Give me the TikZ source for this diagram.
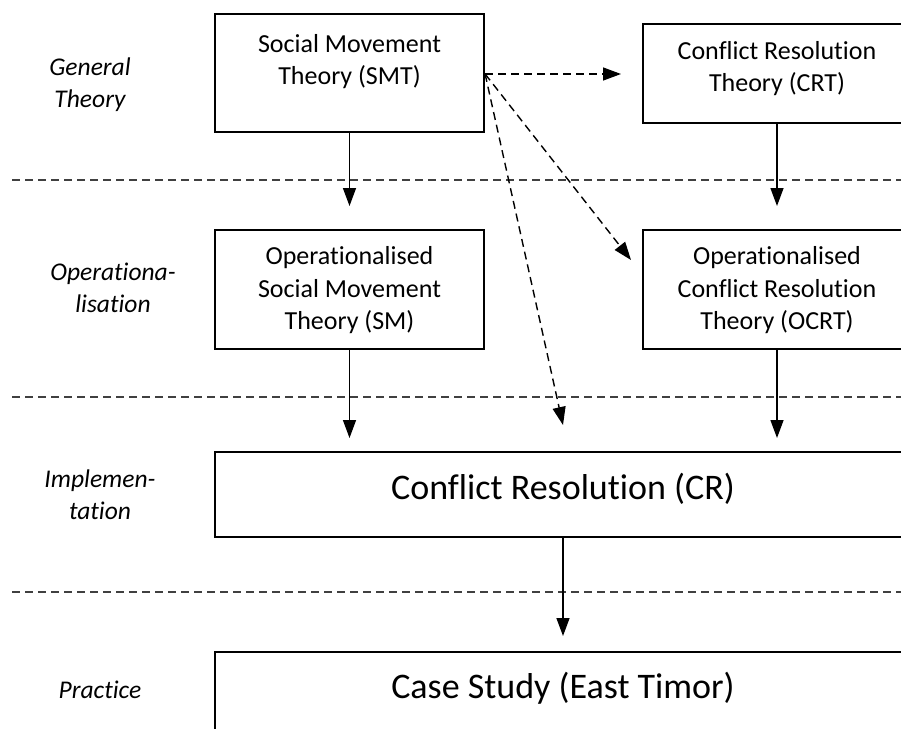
\documentclass[tikz,border=0pt]{standalone}
\usepackage{fontspec}
\setmainfont{Carlito}[Ligatures=NoCommon]
\usetikzlibrary{arrows.meta}
\begin{document}
\begin{tikzpicture}[x=1pt,y=-1pt,
  box/.style={draw, line width=2.2pt, rectangle, inner sep=0pt},
  boxtext/.style={align=center, inner sep=0pt, font=\fontsize{26}{32.5}\selectfont},
  bigtext/.style={align=center, inner sep=0pt, font=\fontsize{36}{44}\selectfont},
  level/.style={align=center, inner sep=0pt, font=\fontsize{25.5}{32}\selectfont\itshape},
  divider/.style={draw=black!75, line width=1.3pt, dash pattern=on 8pt off 5pt},
  flow/.style={line width=1.4pt, -{Triangle[length=18pt, width=13pt]}},
  maybe/.style={flow, dash pattern=on 8pt off 5pt}
]
\clip (0,0) rectangle (901,728);
\fill[white] (0,0) rectangle (901,728);

% level dividers
\coordinate (d1l) at (12,180);  \coordinate (d1r) at (901,180);
\coordinate (d2l) at (12,397);  \coordinate (d2r) at (901,397);
\coordinate (d3l) at (12,592);  \coordinate (d3r) at (901,592);
\draw[divider] (d1l) -- (d1r);
\draw[divider] (d2l) -- (d2r);
\draw[divider] (d3l) -- (d3r);

% level labels
\node[level] (lgen) at (90,85) {General\\Theory};
\node[level] (lop)  at (113,288) {Operationa-\\lisation};
\node[level] (limp) at (100,495) {Implemen-\\tation};
\node[level] (lpra) at (100,690) {Practice};

% boxes
\node[box, minimum width=269pt, minimum height=118pt] (smt)  at (349.5,73) {};
\node[box, minimum width=280pt, minimum height=99pt]  (crt)  at (783,73.5) {};
\node[box, minimum width=269pt, minimum height=119pt] (sm)   at (349.5,289.5) {};
\node[box, minimum width=280pt, minimum height=119pt] (ocrt) at (783,289.5) {};
\node[box, minimum width=700pt, minimum height=85pt]  (cr)   at (565,494.5) {};
\node[box, minimum width=700pt, minimum height=120pt] (cs)   at (565,712) {};

% box texts
\node[boxtext] (tsmt)  at (349.5,61.5) {Social Movement\\Theory (SMT)};
\node[boxtext] (tcrt)  at (777,68.5) {Conflict Resolution\\Theory (CRT)};
\node[boxtext] (tsm)   at (349.5,290.5) {Operationalised\\Social Movement\\Theory (SM)};
\node[boxtext] (tocrt) at (777,290.5) {Operationalised\\Conflict Resolution\\Theory (OCRT)};
\node[bigtext] (tcr)   at (563,489) {Conflict Resolution (CR)};
\node[bigtext] (tcs)   at (563,688) {Case Study (East Timor)};

% connectors
\coordinate (smtout) at (smt.east |- 0,74);
\coordinate (crtin)  at (621,74);
\coordinate (ocrtin) at (631,260);
\coordinate (crin)   at (563,425);

\draw[flow] (smt.south) -- (349.5,206);
\draw[flow] (crt.south -| 777,0) -- (777,206);
\draw[flow] (sm.south) -- (349.5,438);
\draw[flow] (ocrt.south -| 777,0) -- (777,438);
\draw[flow] (cr.south -| 563,0) -- (563,636);

\draw[maybe] (smtout) -- (crtin);
\draw[maybe] (smtout) -- (ocrtin);
\draw[maybe] (smtout) -- (crin);
\end{tikzpicture}
\end{document}
